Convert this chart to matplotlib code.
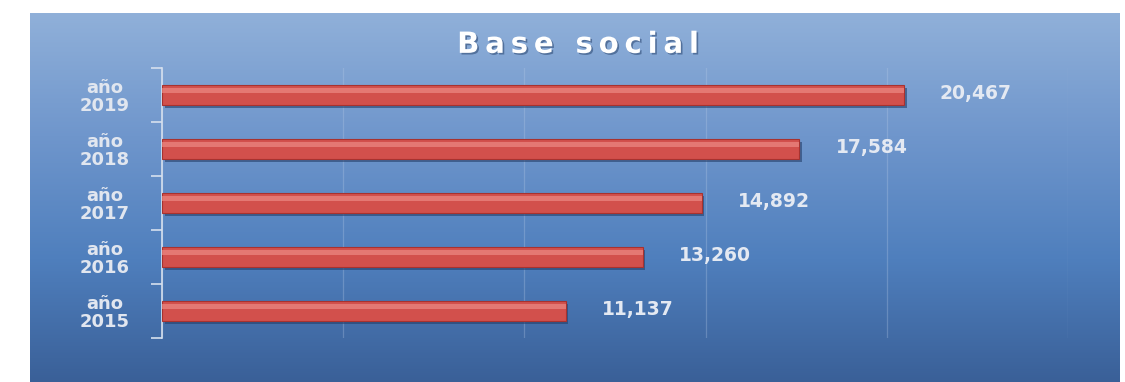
import numpy as np
import matplotlib.pyplot as plt
import matplotlib.patheffects as pe
from matplotlib.colors import LinearSegmentedColormap

# datos
years = ['año\n2015', 'año\n2016', 'año\n2017', 'año\n2018', 'año\n2019']
socios = [11137, 13260, 14892, 17584, 20467]
title = 'Base social'

fig = plt.figure(figsize=(11.25, 3.82), dpi=100)
fig.patch.set_facecolor('white')

# fondo degradado azul
bg = fig.add_axes([30 / 1125, 0, 1090 / 1125, 369 / 382])
grad = np.linspace(0, 1, 256).reshape(-1, 1)
cmap_bg = LinearSegmentedColormap.from_list('bg', ['#90b0d9', '#6f96cc', '#4f7fbd', '#3a6098'])
bg.imshow(grad, aspect='auto', cmap=cmap_bg, extent=[0, 1, 0, 1])
bg.set_axis_off()
# titulo con espaciado entre letras
titulo_esp = '\u2009'.join(title)
bg.text(0.503, 0.892, titulo_esp, ha='center', va='baseline', color='white',
        fontsize=21, fontweight='bold',
        path_effects=[pe.withSimplePatchShadow(offset=(1.2, -1.2), shadow_rgbFace='#3d5a85', alpha=0.7)])

# grafico principal
ax = fig.add_axes([162 / 1125, 44 / 382, 906 / 1125, 270 / 382])
ax.patch.set_alpha(0)
pos = np.arange(len(years))

shadow = [pe.SimplePatchShadow(offset=(2, -2), shadow_rgbFace='#24406b', alpha=0.6), pe.Normal()]
ax.barh(pos, socios, height=0.37, color='#d2504c', edgecolor='#a8322f',
        linewidth=0.8, path_effects=shadow, zorder=3)
ax.barh(pos + 0.08, socios, height=0.1, color='#ec8a84', linewidth=0, alpha=0.7, zorder=4)

for p, v in zip(pos, socios):
    ax.text(v + 1000, p + 0.03, f'{v:,}', va='center', ha='left', color='#e4e9f2',
            fontsize=13.5, fontweight='bold')

ax.set_xlim(0, 25000)
ax.set_ylim(-0.5, len(years) - 0.5)
ax.set_xticks(np.arange(0, 25001, 5000))
ax.tick_params(axis='x', length=0, labelbottom=False)
ax.grid(axis='x', color='#b8cbe6', alpha=0.3, linewidth=0.9, zorder=0)

ax.set_yticks(pos)
ax.set_yticklabels(years, color='#e1e6ef', fontsize=13, fontweight='bold',
                   linespacing=1.0, ha='center')
ax.tick_params(axis='y', which='major', length=0, pad=41)
ax.set_yticks(np.arange(-0.5, len(years)), minor=True)
ax.tick_params(axis='y', which='minor', length=8, color='#d6e0ee', width=1.2, direction='out')

for s in ['top', 'right', 'bottom']:
    ax.spines[s].set_visible(False)
ax.spines['left'].set_color('#d6e0ee')
ax.spines['left'].set_linewidth(1.2)

plt.savefig('out.png', dpi=100, facecolor=fig.get_facecolor())
plt.close()
